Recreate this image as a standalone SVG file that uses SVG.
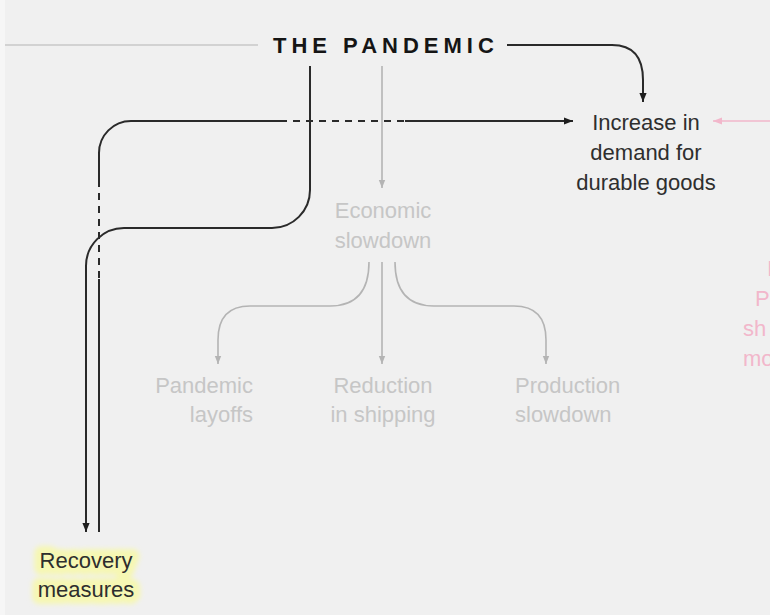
<svg xmlns="http://www.w3.org/2000/svg" width="770" height="615" viewBox="0 0 770 615">
  <defs>
    <style>
      .lbl { font-family: "Liberation Sans", Arial, sans-serif; font-size: 22px; }
      .dark { fill: #2e2e2e; }
      .faint { fill: #c6c6c6; }
      .pink { fill: #f2b7cb; }
      .title { font-family: "Liberation Sans", Arial, sans-serif; font-size: 22px; font-weight: bold; letter-spacing: 5px; fill: #151515; }
      .c-dark { fill: none; stroke: #2a2a2a; stroke-width: 2; }
      .c-dash { fill: none; stroke: #2a2a2a; stroke-width: 2; stroke-dasharray: 7 6; }
      .c-faint { fill: none; stroke: #b4b4b4; stroke-width: 1.6; }
      .c-pink { fill: none; stroke: #f2b7cb; stroke-width: 1.6; }
      .glow { fill: #f6f7b3; stroke: #f6f7b3; stroke-width: 14; stroke-linejoin: round; }
    </style>
    <marker id="ah-dark" viewBox="0 0 10 10" refX="10" refY="5" markerWidth="10" markerHeight="9" markerUnits="userSpaceOnUse" orient="auto">
      <path d="M0,1 L10,5 L0,9 z" fill="#1e1e1e"/>
    </marker>
    <marker id="ah-faint" viewBox="0 0 10 10" refX="10" refY="5" markerWidth="9" markerHeight="8" markerUnits="userSpaceOnUse" orient="auto">
      <path d="M0,1 L10,5 L0,9 z" fill="#b4b4b4"/>
    </marker>
    <marker id="ah-pink" viewBox="0 0 10 10" refX="10" refY="5" markerWidth="10" markerHeight="9" markerUnits="userSpaceOnUse" orient="auto">
      <path d="M0,1 L10,5 L0,9 z" fill="#f2b7cb"/>
    </marker>
    <filter id="soft" x="-20%" y="-50%" width="140%" height="200%">
      <feGaussianBlur stdDeviation="2.5"/>
    </filter>
  </defs>

  <!-- backdrop -->
  <rect x="0" y="0" width="770" height="615" fill="#f0f0f0"/>
  <rect x="0" y="0" width="5" height="615" fill="#f6f6f6"/>

  <!-- connectors -->
  <g id="connectors">
    <!-- pandemic -> increase in demand -->
    <path class="c-dark" d="M507,45 H612 Q643,45 643,80 V102" marker-end="url(#ah-dark)"/>
    <!-- pandemic -> recovery measures (left arrow) -->
    <path class="c-dark" d="M310,66 V190 A38,38 0 0 1 272,228 H124 A38,38 0 0 0 86,266 V532" marker-end="url(#ah-dark)"/>
    <!-- recovery measures -> increase in demand (passes behind crossings) -->
    <path class="c-dark" d="M99,532 V279"/>
    <path class="c-dash" d="M99,278 V186"/>
    <path class="c-dark" d="M99,186 V153 A32,32 0 0 1 131,121 H280"/>
    <path class="c-dash" d="M280,121 H405"/>
    <path class="c-dark" d="M405,121 H573" marker-end="url(#ah-dark)"/>
    <!-- pandemic -> economic slowdown -->
    <path class="c-faint" d="M382,66 V188" marker-end="url(#ah-faint)"/>
    <!-- economic slowdown -> effects -->
    <path class="c-faint" d="M369,262 Q369,306 330,306 H250 Q218,306 218,340 V364" marker-end="url(#ah-faint)"/>
    <path class="c-faint" d="M382,262 V364" marker-end="url(#ah-faint)"/>
    <path class="c-faint" d="M395,262 Q395,306 434,306 H514 Q546,306 546,340 V364" marker-end="url(#ah-faint)"/>
    <!-- incoming link from the right -->
    <path class="c-pink" d="M770,121 H713" marker-end="url(#ah-pink)"/>
  </g>

  <g id="n-pandemic">
    <line x1="5" y1="45" x2="258" y2="45" stroke="#d2d2d2" stroke-width="2"/>
    <text class="title" x="273" y="53">THE PANDEMIC</text>
  </g>

  <g id="n-demand" class="lbl dark" text-anchor="middle">
    <text x="646" y="130">Increase in</text>
    <text x="646" y="160">demand for</text>
    <text x="646" y="190">durable goods</text>
  </g>

  <g id="n-slowdown" class="lbl faint" text-anchor="middle">
    <text x="383" y="218">Economic</text>
    <text x="383" y="248">slowdown</text>
  </g>

  <g id="n-layoffs" class="lbl faint" text-anchor="end">
    <text x="253" y="393">Pandemic</text>
    <text x="253" y="422">layoffs</text>
  </g>

  <g id="n-shipping" class="lbl faint" text-anchor="middle">
    <text x="383" y="393">Reduction</text>
    <text x="383" y="422">in shipping</text>
  </g>

  <g id="n-production" class="lbl faint" text-anchor="start">
    <text x="515" y="393">Production</text>
    <text x="515" y="422">slowdown</text>
  </g>

  <g id="n-recovery" class="lbl" text-anchor="middle">
    <g filter="url(#soft)">
      <text class="glow" x="86" y="568">Recovery</text>
      <text class="glow" x="86" y="597">measures</text>
    </g>
    <text class="dark" x="86" y="568">Recovery</text>
    <text class="dark" x="86" y="597">measures</text>
  </g>

  <!-- label at the right edge, cut off by the frame -->
  <g id="n-offscreen" class="lbl pink">
    <text x="767" y="276">I</text>
    <text x="755" y="306">P</text>
    <text x="743" y="336">sh</text>
    <text x="743" y="366">mo</text>
  </g>
</svg>
